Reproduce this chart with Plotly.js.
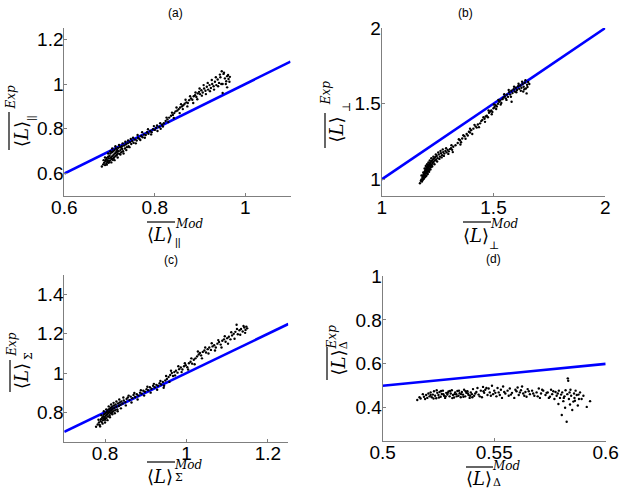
<!DOCTYPE html>
<html><head><meta charset="utf-8">
<script src="https://cdn.plot.ly/plotly-3.0.1.min.js"></script>
<style>html,body{margin:0;padding:0;background:#fff}#chart{width:624px;height:497px}</style>
</head><body><div id="chart"></div>
<script>
// ---------------- DATA ----------------
const panelTitles = ['(a)', '(b)', '(c)', '(d)'];
const subscripts = ['||', '⊥', 'Σ', 'Δ'];

// reference line (Exp = Mod) end points
const lineA_x = [0.6, 1.1],  lineA_y = [0.6, 1.1];
const lineB_x = [1, 2],      lineB_y = [1, 2];
const lineC_x = [0.7, 1.25], lineC_y = [0.7, 1.25];
const lineD_x = [0.5, 0.6],  lineD_y = [0.5, 0.6];

// tick values / labels
const ticksA_x = [0.6, 0.8, 1],        ticksA_xt = ['0.6', '0.8', '1'];
const ticksA_y = [0.6, 0.8, 1, 1.2],   ticksA_yt = ['0.6', '0.8', '1', '1.2'];
const ticksB_x = [1, 1.5, 2],          ticksB_xt = ['1', '1.5', '2'];
const ticksB_y = [1, 1.5, 2],          ticksB_yt = ['1', '1.5', '2'];
const ticksC_x = [0.8, 1, 1.2],        ticksC_xt = ['0.8', '1', '1.2'];
const ticksC_y = [0.8, 1, 1.2, 1.4],   ticksC_yt = ['0.8', '1', '1.2', '1.4'];
const ticksD_x = [0.5, 0.55, 0.6],     ticksD_xt = ['0.5', '0.55', '0.6'];
const ticksD_y = [0.4, 0.6, 0.8, 1],   ticksD_yt = ['0.4', '0.6', '0.8', '1'];

// scatter points [Mod, Exp]
const pointsA = [
[0.683,0.632],[0.686,0.641],[0.688,0.648],[0.690,0.638],[0.691,0.655],[0.692,0.662],[0.693,0.645],[0.694,0.670],
[0.695,0.652],[0.696,0.660],[0.697,0.675],[0.698,0.648],[0.699,0.668],[0.700,0.680],[0.701,0.658],[0.702,0.690],
[0.703,0.672],[0.704,0.665],[0.705,0.695],[0.706,0.678],[0.707,0.662],[0.708,0.700],[0.709,0.684],[0.710,0.672],
[0.711,0.705],[0.712,0.690],[0.713,0.678],[0.714,0.712],[0.715,0.695],[0.716,0.683],[0.717,0.706],[0.718,0.690],
[0.719,0.715],[0.720,0.700],[0.722,0.688],[0.723,0.718],[0.724,0.705],[0.726,0.695],[0.727,0.722],[0.728,0.710],
[0.730,0.700],[0.732,0.725],[0.734,0.712],[0.736,0.730],[0.738,0.718],[0.740,0.735],[0.742,0.722],[0.745,0.740],
[0.748,0.732],[0.750,0.745],[0.753,0.738],[0.756,0.752],[0.760,0.748],[0.763,0.760],[0.766,0.755],[0.770,0.768],
[0.773,0.762],[0.776,0.775],[0.780,0.772],[0.783,0.785],[0.786,0.778],[0.790,0.790],[0.793,0.785],[0.796,0.798],
[0.800,0.795],[0.803,0.805],[0.806,0.790],[0.810,0.808],[0.813,0.800],[0.816,0.818],[0.820,0.825],[0.824,0.835],
[0.828,0.842],[0.832,0.850],[0.836,0.858],[0.840,0.862],[0.843,0.870],[0.846,0.878],[0.850,0.882],[0.853,0.888],
[0.856,0.895],[0.860,0.900],[0.863,0.905],[0.866,0.912],[0.870,0.918],[0.873,0.915],[0.876,0.928],[0.880,0.935],
[0.883,0.930],[0.886,0.945],[0.889,0.950],[0.892,0.942],[0.895,0.958],[0.898,0.965],[0.900,0.955],[0.903,0.972],
[0.906,0.962],[0.909,0.980],[0.912,0.970],[0.915,0.988],[0.918,0.975],[0.921,0.995],[0.924,0.982],[0.927,1.000],
[0.930,0.990],[0.933,1.010],[0.936,0.995],[0.939,1.020],[0.942,1.005],[0.945,1.030],[0.948,1.057],[0.950,1.000],
[0.952,1.045],[0.955,1.025],[0.958,1.012],[0.960,1.035],[0.963,1.022],[0.966,1.032],[0.950,0.960],
[0.687,0.660],[0.690,0.672],[0.694,0.640],[0.697,0.690],[0.699,0.652],[0.702,0.700],[0.704,0.650],[0.706,0.712],
[0.708,0.668],[0.711,0.660],[0.713,0.722],[0.716,0.700],[0.718,0.672],[0.721,0.728],[0.724,0.685],[0.726,0.715],
[0.729,0.735],[0.731,0.690],[0.735,0.742],[0.737,0.705],[0.741,0.748],[0.744,0.718],[0.747,0.755],[0.752,0.760],
[0.758,0.735],[0.762,0.772],[0.768,0.750],[0.772,0.785],[0.778,0.760],[0.785,0.798],[0.792,0.775],[0.798,0.812],
[0.805,0.815],[0.812,0.825],[0.818,0.810],[0.826,0.850],[0.830,0.830],[0.838,0.872],[0.842,0.848],[0.848,0.895],
[0.855,0.870],[0.858,0.910],[0.862,0.888],[0.868,0.930],[0.872,0.900],[0.878,0.945],[0.885,0.915],[0.890,0.962],
[0.894,0.932],[0.899,0.980],[0.904,0.948],[0.908,0.995],[0.913,0.955],[0.917,1.005],[0.922,0.968],[0.926,1.018],
[0.931,0.975],[0.935,1.030],[0.940,0.990],[0.944,1.042],[0.947,1.000],[0.953,1.050],[0.957,1.000],[0.962,1.040],
[0.965,1.010],[0.960,0.985]
];
const pointsB = [
[1.171,0.974],[1.175,0.990],[1.178,1.000],[1.180,0.985],[1.182,1.010],[1.184,1.022],[1.185,1.000],[1.187,1.030],
[1.188,1.015],[1.190,1.040],[1.191,1.025],[1.192,1.050],[1.193,1.035],[1.195,1.060],[1.196,1.045],[1.197,1.020],
[1.198,1.070],[1.199,1.055],[1.200,1.040],[1.201,1.078],[1.202,1.062],[1.204,1.085],[1.205,1.050],[1.206,1.070],
[1.207,1.092],[1.208,1.078],[1.210,1.060],[1.211,1.098],[1.212,1.085],[1.214,1.070],[1.215,1.105],[1.216,1.090],
[1.218,1.112],[1.219,1.080],[1.220,1.100],[1.222,1.118],[1.224,1.095],[1.226,1.125],[1.228,1.108],[1.230,1.132],
[1.232,1.115],[1.235,1.140],[1.238,1.125],[1.240,1.148],[1.243,1.130],[1.246,1.155],[1.250,1.140],[1.255,1.165],
[1.260,1.150],[1.265,1.172],[1.270,1.160],[1.275,1.180],[1.280,1.170],[1.285,1.188],[1.290,1.178],[1.295,1.195],
[1.300,1.185],[1.305,1.200],[1.310,1.205],[1.315,1.195],[1.320,1.215],[1.330,1.225],[1.340,1.240],[1.350,1.258],
[1.355,1.245],[1.360,1.270],[1.370,1.285],[1.380,1.300],[1.385,1.290],[1.390,1.315],[1.395,1.310],[1.400,1.325],
[1.410,1.335],[1.420,1.350],[1.425,1.342],[1.430,1.362],[1.440,1.370],[1.445,1.385],[1.450,1.392],[1.460,1.400],
[1.465,1.415],[1.470,1.420],[1.475,1.410],[1.480,1.440],[1.485,1.448],[1.490,1.455],[1.495,1.445],[1.500,1.470],
[1.505,1.478],[1.510,1.490],[1.515,1.482],[1.520,1.500],[1.525,1.512],[1.530,1.520],[1.535,1.505],[1.540,1.530],
[1.545,1.540],[1.550,1.548],[1.555,1.535],[1.560,1.560],[1.565,1.545],[1.570,1.575],[1.575,1.560],[1.580,1.585],
[1.581,1.513],[1.585,1.570],[1.590,1.595],[1.595,1.580],[1.600,1.605],[1.605,1.590],[1.610,1.615],[1.615,1.598],
[1.620,1.620],[1.625,1.605],[1.630,1.630],[1.633,1.580],[1.635,1.612],[1.640,1.638],[1.645,1.600],[1.648,1.568],
[1.650,1.625],[1.655,1.643],
[1.178,1.025],[1.183,0.995],[1.186,1.045],[1.189,1.005],[1.192,1.072],[1.194,1.015],[1.197,1.088],[1.200,1.025],
[1.203,1.100],[1.206,1.035],[1.209,1.112],[1.212,1.050],[1.215,1.125],[1.218,1.065],[1.222,1.140],[1.226,1.085],
[1.231,1.150],[1.236,1.100],[1.242,1.165],[1.248,1.118],[1.253,1.178],[1.258,1.135],[1.263,1.188],[1.268,1.145],
[1.273,1.198],[1.278,1.155],[1.288,1.205],[1.298,1.168],[1.312,1.225],[1.318,1.180],[1.345,1.265],[1.352,1.230],
[1.365,1.292],[1.375,1.268],[1.395,1.335],[1.405,1.300],[1.415,1.360],[1.435,1.345],[1.455,1.410],[1.462,1.380],
[1.478,1.455],[1.492,1.430],[1.502,1.495],[1.512,1.465],[1.522,1.525],[1.532,1.495],[1.548,1.562],[1.558,1.525],
[1.568,1.590],[1.578,1.545],[1.592,1.612],[1.602,1.575],[1.612,1.632],[1.622,1.585],[1.628,1.645],[1.638,1.595],
[1.643,1.655],[1.652,1.610],[1.660,1.630]
];
const pointsC = [
[0.778,0.726],[0.782,0.738],[0.785,0.748],[0.787,0.735],[0.789,0.755],[0.790,0.765],[0.792,0.750],[0.793,0.772],
[0.795,0.760],[0.796,0.780],[0.797,0.768],[0.798,0.790],[0.799,0.775],[0.800,0.762],[0.801,0.795],[0.802,0.782],
[0.803,0.770],[0.804,0.800],[0.805,0.788],[0.806,0.808],[0.807,0.778],[0.808,0.795],[0.809,0.815],[0.810,0.802],
[0.811,0.785],[0.812,0.820],[0.813,0.808],[0.814,0.795],[0.815,0.825],[0.816,0.812],[0.817,0.800],[0.818,0.830],
[0.819,0.818],[0.820,0.805],[0.822,0.835],[0.823,0.822],[0.825,0.810],[0.826,0.840],[0.828,0.828],[0.830,0.815],
[0.832,0.845],[0.834,0.832],[0.836,0.850],[0.838,0.838],[0.840,0.855],[0.843,0.845],[0.846,0.860],[0.850,0.852],
[0.853,0.868],[0.856,0.875],[0.860,0.862],[0.863,0.880],[0.867,0.872],[0.870,0.888],[0.874,0.878],[0.878,0.892],
[0.882,0.885],[0.886,0.900],[0.890,0.895],[0.894,0.910],[0.898,0.905],[0.902,0.918],[0.906,0.912],[0.910,0.928],
[0.914,0.920],[0.918,0.935],[0.922,0.928],[0.926,0.940],[0.930,0.935],[0.934,0.948],[0.938,0.942],[0.942,0.955],
[0.945,0.935],[0.948,0.962],[0.952,0.970],[0.956,0.980],[0.960,0.990],[0.964,1.000],[0.967,0.985],[0.970,1.005],
[0.974,1.012],[0.978,1.002],[0.982,1.020],[0.986,1.028],[0.990,1.018],[0.994,1.035],[0.998,1.040],[1.002,1.030],
[1.006,1.050],[1.010,1.058],[1.014,1.048],[1.018,1.068],[1.022,1.075],[1.026,1.085],[1.030,1.095],[1.033,1.102],
[1.036,1.090],[1.040,1.108],[1.044,1.115],[1.048,1.105],[1.052,1.122],[1.056,1.130],[1.060,1.118],[1.064,1.136],
[1.068,1.142],[1.072,1.130],[1.076,1.150],[1.080,1.158],[1.084,1.145],[1.088,1.165],[1.092,1.172],[1.096,1.160],
[1.100,1.178],[1.104,1.185],[1.108,1.172],[1.112,1.192],[1.116,1.200],[1.120,1.210],[1.123,1.246],[1.126,1.198],
[1.130,1.218],[1.134,1.225],[1.138,1.212],[1.142,1.232],[1.145,1.220],[1.147,1.237],
[0.784,0.762],[0.788,0.728],[0.791,0.785],[0.794,0.742],[0.797,0.805],[0.800,0.748],[0.803,0.815],[0.806,0.760],
[0.809,0.830],[0.812,0.775],[0.815,0.840],[0.818,0.790],[0.821,0.848],[0.824,0.795],[0.828,0.855],[0.831,0.805],
[0.835,0.865],[0.839,0.820],[0.845,0.875],[0.851,0.835],[0.858,0.885],[0.865,0.850],[0.872,0.898],[0.880,0.865],
[0.888,0.912],[0.896,0.885],[0.904,0.930],[0.912,0.900],[0.920,0.945],[0.928,0.915],[0.936,0.960],[0.944,0.925],
[0.950,0.985],[0.958,0.955],[0.962,1.012],[0.972,0.988],[0.980,1.035],[0.988,1.005],[0.996,1.050],[1.004,1.018],
[1.012,1.075],[1.020,1.045],[1.028,1.110],[1.038,1.075],[1.046,1.130],[1.054,1.100],[1.062,1.152],[1.070,1.115],
[1.078,1.168],[1.086,1.130],[1.094,1.188],[1.102,1.150],[1.110,1.208],[1.118,1.175],[1.124,1.225],[1.132,1.195],
[1.140,1.240],[1.144,1.205],[1.149,1.228]
];
const pointsD = [
[0.5155,0.435],[0.5170,0.442],[0.5185,0.450],[0.5195,0.458],[0.5200,0.445],[0.5205,0.465],[0.5210,0.452],[0.5215,0.470],
[0.5220,0.448],[0.5225,0.460],[0.5230,0.475],[0.5235,0.455],[0.5240,0.443],[0.5245,0.468],[0.5250,0.458],[0.5255,0.472],
[0.5260,0.450],[0.5265,0.463],[0.5270,0.478],[0.5275,0.455],[0.5280,0.445],[0.5285,0.468],[0.5290,0.460],[0.5295,0.474],
[0.5300,0.452],[0.5305,0.465],[0.5310,0.480],[0.5315,0.458],[0.5320,0.447],[0.5325,0.470],[0.5330,0.462],[0.5335,0.476],
[0.5340,0.455],[0.5345,0.466],[0.5350,0.448],[0.5355,0.472],[0.5360,0.460],[0.5365,0.482],[0.5370,0.452],[0.5375,0.468],
[0.5380,0.475],[0.5385,0.458],[0.5390,0.445],[0.5395,0.470],[0.5400,0.462],[0.5405,0.485],[0.5410,0.455],[0.5420,0.472],
[0.5425,0.490],[0.5430,0.460],[0.5440,0.478],[0.5445,0.448],[0.5450,0.495],[0.5455,0.468],[0.5460,0.482],[0.5470,0.458],
[0.5475,0.488],[0.5480,0.470],[0.5490,0.500],[0.5495,0.462],[0.5500,0.478],[0.5510,0.452],[0.5515,0.490],[0.5520,0.470],
[0.5530,0.482],[0.5535,0.445],[0.5540,0.497],[0.5550,0.465],[0.5560,0.478],[0.5565,0.455],[0.5570,0.488],[0.5580,0.468],
[0.5590,0.445],[0.5600,0.475],[0.5605,0.492],[0.5610,0.458],[0.5620,0.480],[0.5625,0.497],[0.5630,0.465],[0.5640,0.472],
[0.5645,0.450],[0.5650,0.485],[0.5660,0.462],[0.5670,0.478],[0.5680,0.455],[0.5690,0.470],[0.5700,0.488],[0.5705,0.445],
[0.5710,0.465],[0.5720,0.478],[0.5730,0.458],[0.5740,0.470],[0.5750,0.450],[0.5755,0.482],[0.5760,0.462],[0.5770,0.440],
[0.5775,0.472],[0.5780,0.455],[0.5788,0.417],[0.5790,0.478],[0.5795,0.445],[0.5800,0.460],[0.5803,0.367],[0.5805,0.470],
[0.5810,0.430],[0.5815,0.452],[0.5818,0.400],[0.5820,0.480],[0.5825,0.336],[0.5828,0.462],[0.5830,0.534],[0.5832,0.523],
[0.5835,0.440],[0.5838,0.470],[0.5840,0.415],[0.5845,0.455],[0.5850,0.390],[0.5855,0.428],[0.5858,0.465],[0.5860,0.445],
[0.5865,0.478],[0.5870,0.458],[0.5875,0.410],[0.5880,0.440],[0.5885,0.470],[0.5892,0.440],[0.5900,0.455],[0.5915,0.404],
[0.5930,0.430],
[0.5165,0.448],[0.5180,0.462],[0.5190,0.440],[0.5215,0.458],[0.5228,0.442],[0.5242,0.480],[0.5252,0.447],[0.5262,0.476],
[0.5272,0.462],[0.5282,0.452],[0.5292,0.468],[0.5302,0.476],[0.5312,0.444],[0.5322,0.462],[0.5332,0.452],[0.5342,0.478],
[0.5352,0.462],[0.5362,0.450],[0.5372,0.475],[0.5382,0.465],[0.5392,0.455],[0.5402,0.448],[0.5415,0.465],[0.5435,0.452],
[0.5452,0.475],[0.5465,0.490],[0.5485,0.455],[0.5505,0.468],[0.5525,0.458],[0.5545,0.472],[0.5575,0.460],[0.5595,0.482],
[0.5615,0.470],[0.5635,0.455],[0.5655,0.475],[0.5675,0.465],[0.5695,0.452],[0.5715,0.482],[0.5735,0.468],[0.5745,0.445],
[0.5765,0.475],[0.5785,0.465],[0.5812,0.445],[0.5842,0.482],[0.5862,0.432],[0.5878,0.460]
];

// ---------------- CHART ----------------
const W = 624, H = 497;
const tickFont = {family: 'Liberation Sans, Arial, sans-serif', size: 19, color: '#000'};
const mathFont = 'DejaVu Serif, Liberation Serif, serif';
const axisColor = '#7f7f7f';

function axis(domain, range, tv, tt, isY) {
  return {domain, range, tickmode: 'array', tickvals: tv, ticktext: tt,
    showline: true, linecolor: axisColor, linewidth: 1, ticks: 'inside', ticklen: 3,
    tickcolor: axisColor, showgrid: false, zeroline: false, tickfont: tickFont, fixedrange: true,
    ticklabelstandoff: isY ? -4 : -6};
}
function px(x) { return x / W; }
function py(y) { return 1 - y / H; }

const panels = [
  {pts: pointsA, lx: lineA_x, ly: lineA_y},
  {pts: pointsB, lx: lineB_x, ly: lineB_y},
  {pts: pointsC, lx: lineC_x, ly: lineC_y},
  {pts: pointsD, lx: lineD_x, ly: lineD_y}
];
const axIds = [['x', 'y'], ['x2', 'y2'], ['x3', 'y3'], ['x4', 'y4']];
const traces = [];
panels.forEach((p, i) => {
  traces.push({type: 'scatter', mode: 'lines', x: p.lx, y: p.ly, xaxis: axIds[i][0], yaxis: axIds[i][1],
    line: {color: '#0000ff', width: 2.6}, hoverinfo: 'skip', cliponaxis: false});
  traces.push({type: 'scatter', mode: 'markers', x: p.pts.map(d => d[0]), y: p.pts.map(d => d[1]),
    xaxis: axIds[i][0], yaxis: axIds[i][1], marker: {color: '#000', size: 2.4}, hoverinfo: 'skip'});
});

const layout = {
  width: W, height: H, margin: {l: 0, r: 0, t: 0, b: 0},
  paper_bgcolor: '#fff', plot_bgcolor: '#fff', showlegend: false,
  xaxis:  Object.assign(axis([px(64.3), px(290.5)], [0.6, 1.1], ticksA_x, ticksA_xt), {anchor: 'y'}),
  yaxis:  Object.assign(axis([py(196), py(28)], [0.5, 1.25], ticksA_y, ticksA_yt, true), {anchor: 'x'}),
  xaxis2: Object.assign(axis([px(381.7), px(605.3)], [1, 2], ticksB_x, ticksB_xt), {anchor: 'y2'}),
  yaxis2: Object.assign(axis([py(196), py(28)], [0.89, 2], ticksB_y, ticksB_yt, true), {anchor: 'x2'}),
  xaxis3: Object.assign(axis([px(64.3), px(288.3)], [0.7, 1.25], ticksC_x, ticksC_xt), {anchor: 'y3'}),
  yaxis3: Object.assign(axis([py(441.7), py(275)], [0.65, 1.5], ticksC_y, ticksC_yt, true), {anchor: 'x3'}),
  xaxis4: Object.assign(axis([px(382.7), px(605.7)], [0.5, 0.6], ticksD_x, ticksD_xt), {anchor: 'y4'}),
  yaxis4: Object.assign(axis([py(440.7), py(276)], [0.25, 1], ticksD_y, ticksD_yt, true), {anchor: 'x4'}),
  annotations: [], shapes: []
};

function ann(x, y, text, size, angle, family) {
  layout.annotations.push({xref: 'paper', yref: 'paper', x: px(x), y: py(y), xanchor: 'center', yanchor: 'middle',
    text, showarrow: false, textangle: angle || 0, borderpad: 0,
    font: {family: family || mathFont, size, color: '#000'}});
}
function bar(x0, y0, x1, y1) {
  layout.shapes.push({type: 'line', xref: 'paper', yref: 'paper', x0: px(x0), y0: py(y0), x1: px(x1), y1: py(y1),
    line: {color: '#000', width: 1.2}});
}

// panel titles
const titlePos = [[175, 13], [465, 13], [171, 260], [493, 259]];
panelTitles.forEach((t, i) => ann(titlePos[i][0], titlePos[i][1], t, 12, 0, 'Liberation Sans, Arial, sans-serif'));

const mainTxt = '⟨<i>L</i>⟩';
const subFont = 'Liberation Sans, DejaVu Sans, sans-serif';
// x-axis labels: [mainX, mainY, supX, supY, subX, subY, barX0, barX1, barY]
const xl = [
  [160, 234, 189, 224, 178, 242, 147, 175, 222],
  [476.5, 235, 504, 224, 494, 245, 463, 491, 222],
  [160, 476, 188, 465, 179, 477, 147, 175, 462],
  [479, 478, 506, 465.5, 497, 482, 466, 493, 467]
];
xl.forEach((v, i) => {
  ann(v[0], v[1], mainTxt, 18, 0);
  ann(v[2], v[3], '<i>Mod</i>', 12, 0);
  ann(v[4], v[5], subscripts[i], 11, 0, i === 0 ? subFont : mathFont);
  bar(v[6], v[8], v[7], v[8]);
});
// y-axis labels: [mainX, mainY, supX, supY, subX, subY, barX, barY0, barY1]
const yl = [
  [21.5, 134.5, 10, 97.5, 30.5, 118.5, 9, 112, 150],
  [336.5, 130, 326.7, 92.5, 346.5, 107.5, 325, 113, 148],
  [21.5, 376.5, 11.7, 344, 28.5, 356.5, 10, 360, 392],
  [338, 362.5, 331.7, 336.7, 343.5, 345.8, 327, 347, 380]
];
yl.forEach((v, i) => {
  ann(v[0], v[1], mainTxt, 18, -90);
  ann(v[2], v[3], '<i>Exp</i>', 12, -90);
  ann(v[4], v[5], subscripts[i], 11, -90, i === 0 ? subFont : mathFont);
  bar(v[6], v[7], v[6], v[8]);
});

Plotly.newPlot('chart', traces, layout, {staticPlot: true, displayModeBar: false});
</script>
</body></html>
